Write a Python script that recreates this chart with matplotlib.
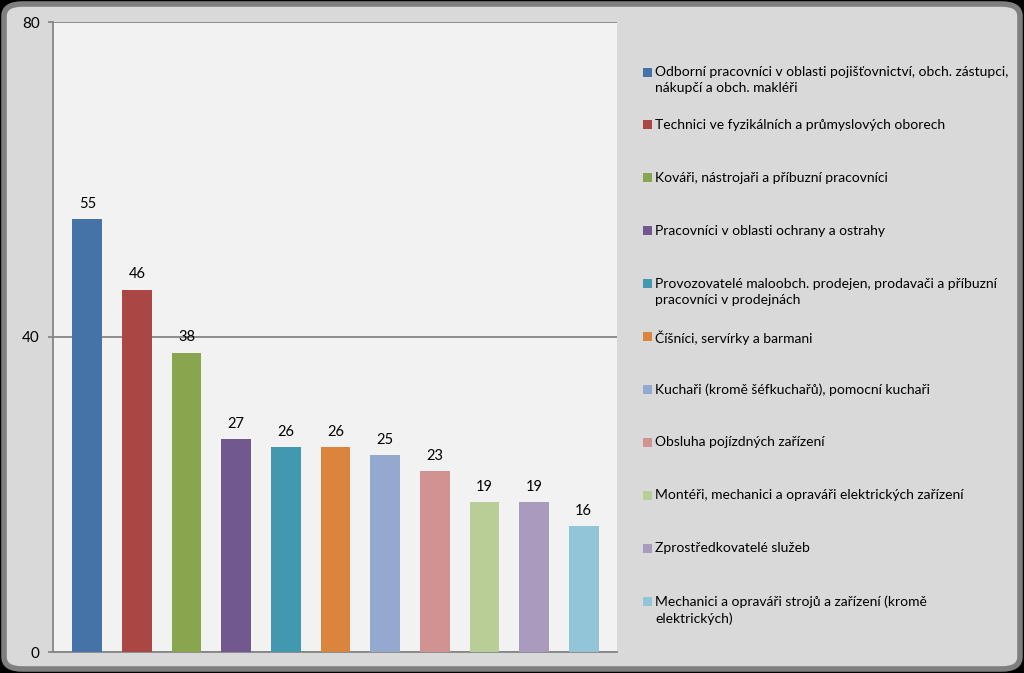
import matplotlib.pyplot as plt
from matplotlib.patches import FancyBboxPatch, Rectangle

plt.rcParams['font.family'] = ['Lato', 'DejaVu Sans']

categories = [
    'Odborní pracovníci v oblasti pojišťovnictví, obch. zástupci,\nnákupčí a obch. makléři',
    'Technici ve fyzikálních a průmyslových oborech',
    'Kováři, nástrojaři a příbuzní pracovníci',
    'Pracovníci v oblasti ochrany a ostrahy',
    'Provozovatelé maloobch. prodejen, prodavači a příbuzní\npracovníci v prodejnách',
    'Číšníci, servírky a barmani',
    'Kuchaři (kromě šéfkuchařů), pomocní kuchaři',
    'Obsluha pojízdných zařízení',
    'Montéři, mechanici a opraváři elektrických zařízení',
    'Zprostředkovatelé služeb',
    'Mechanici a opraváři strojů a zařízení (kromě\nelektrických)',
]
values = [55, 46, 38, 27, 26, 26, 25, 23, 19, 19, 16]
colors = ['#4572A7', '#AA4643', '#89A54E', '#71588F', '#4198AF', '#DB843D',
          '#93A9CF', '#D19392', '#B9CD96', '#A99BBD', '#92C5D7']
yticks = [0, 40, 80]

W, H = 1024, 673
fig = plt.figure(figsize=(W / 100, H / 100), dpi=100)
fig.patch.set_facecolor('black')

# rounded chart frame
frame = FancyBboxPatch((4 / W, 4 / H), 1 - 8 / W, 1 - 8 / H,
                       boxstyle='round,pad=0,rounding_size=0.018',
                       transform=fig.transFigure, facecolor='#d9d9d9',
                       edgecolor='#7f7f7f', linewidth=4, zorder=-1)
fig.patches.append(frame)

ax = fig.add_axes([53 / W, (H - 652) / H, 564 / W, 630 / H])
ax.set_zorder(2)
ax.set_facecolor('#f2f2f2')

x = list(range(len(values)))
bars = ax.bar(x, values, width=0.6, color=colors, zorder=3)
ax.bar_label(bars, labels=[str(v) for v in values], padding=6, fontsize=10.5)

ax.set_xlim(-0.69, 10.67)
ax.set_ylim(0, 80)
ax.set_yticks(yticks)
ax.set_yticklabels([str(t) for t in yticks], fontsize=11)
ax.set_xticks([])
ax.grid(axis='y', color='#868686', linewidth=1.3, zorder=1)
ax.tick_params(axis='y', length=3.6, color='#868686', width=1.3, pad=6)
for s in ['top', 'right']:
    ax.spines[s].set_visible(False)
for s in ['left', 'bottom']:
    ax.spines[s].set_color('#868686')
    ax.spines[s].set_linewidth(1.3)

# legend drawn entry by entry
for i, (lab, col) in enumerate(zip(categories, colors)):
    yc = 72 + 52.9 * i
    fig.patches.append(Rectangle((643 / W, 1 - (yc + 4.5) / H), 9 / W, 9 / H,
                                 transform=fig.transFigure, facecolor=col,
                                 edgecolor='none'))
    fig.text(655 / W, 1 - (yc - 6) / H, lab, fontsize=10, va='top', ha='left',
             linespacing=1.45)

fig.savefig('out.png', dpi=100, facecolor=fig.get_facecolor())
